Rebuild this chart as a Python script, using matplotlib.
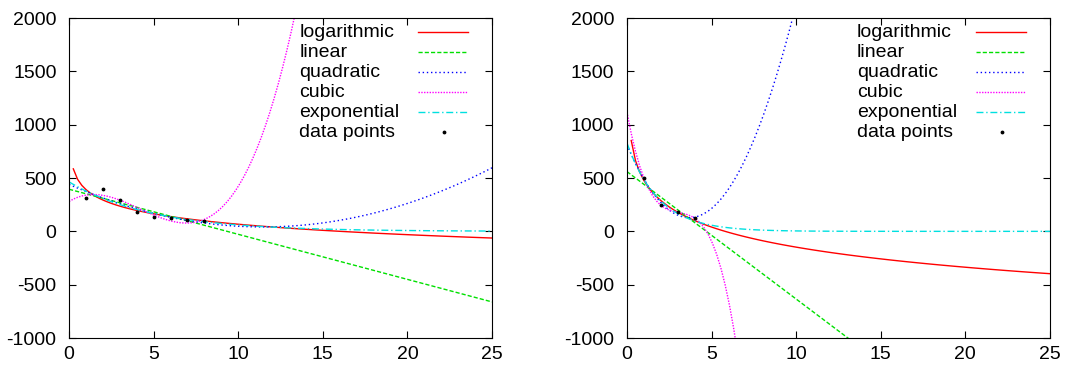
import numpy as np
import matplotlib.pyplot as plt

plt.rcParams['font.family'] = ['Liberation Sans', 'DejaVu Sans']
plt.rcParams['axes.unicode_minus'] = False

# data points
x_left = [1, 2, 3, 4, 5, 6, 7, 8]
y_left = [310, 400, 292, 180, 135, 122, 105, 93]

x_right = [1, 2, 3, 4]
y_right = [500, 245, 178, 124]

labels = ['logarithmic', 'linear', 'quadratic', 'cubic', 'exponential']
colors = ['#ff0000', '#00e000', '#0000ff', '#ff00ff', '#00e0e0']
styles = ['-', (0, (3, 1.5)), (0, (1, 2)), (0, (1, 1)), (0, (5, 2, 1, 2))]


def exp_fit(x, y):
    # y = a*exp(b*x), start from log-linear fit then a few Gauss-Newton steps
    b, la = np.polyfit(x, np.log(y), 1)
    a = np.exp(la)
    for _ in range(50):
        f = a * np.exp(b * x)
        J = np.column_stack([np.exp(b * x), a * x * np.exp(b * x)])
        d = np.linalg.lstsq(J, y - f, rcond=None)[0]
        a, b = a + d[0], b + d[1]
    return a, b


def fits(x, y, xs):
    x = np.asarray(x, float)
    y = np.asarray(y, float)
    out = []
    bl, al = np.polyfit(np.log(x), y, 1)
    xl = xs[xs > 0]
    out.append((xl, al + bl * np.log(xl)))
    for deg in (1, 2, 3):
        out.append((xs, np.polyval(np.polyfit(x, y, deg), xs)))
    a, b = exp_fit(x, y)
    out.append((xs, a * np.exp(b * xs)))
    return out


xs = np.linspace(0, 25, 100)

fig, axes = plt.subplots(1, 2, figsize=(10.67, 3.68), dpi=100)
plt.subplots_adjust(left=0.0647, right=0.984, bottom=0.0815, top=0.951, wspace=0.319)

for ax, xd, yd in zip(axes, [x_left, x_right], [y_left, y_right]):
    for (fx, fy), c, ls in zip(fits(xd, yd, xs), colors, styles):
        ax.plot(fx, fy, color=c, linestyle=ls, linewidth=1)
    ax.plot(xd, yd, 'k.', markersize=3.5)
    ax.set_xlim(0, 25)
    ax.set_ylim(-1000, 2000)
    ax.set_xticks([0, 5, 10, 15, 20, 25])
    ax.set_yticks(range(-1000, 2001, 500))
    ax.tick_params(direction='in', top=True, right=True, labelsize=14, length=5)
    ax.tick_params(axis='x', pad=6)
    ax.tick_params(axis='y', pad=9)

    # gnuplot-style key: text on the left, sample on the right
    tr = ax.transAxes
    for i, lab in enumerate(labels + ['data points']):
        yk = 0.955 - 0.0625 * i
        ax.text(0.544, yk, lab, transform=tr, fontsize=14, va='center', ha='left')
        if i < len(labels):
            ax.plot([0.825, 0.943], [yk, yk], transform=tr, color=colors[i],
                    linestyle=styles[i], linewidth=1)
        else:
            ax.plot([0.886], [yk], 'k.', markersize=3.5, transform=tr)

plt.savefig('out.png')
